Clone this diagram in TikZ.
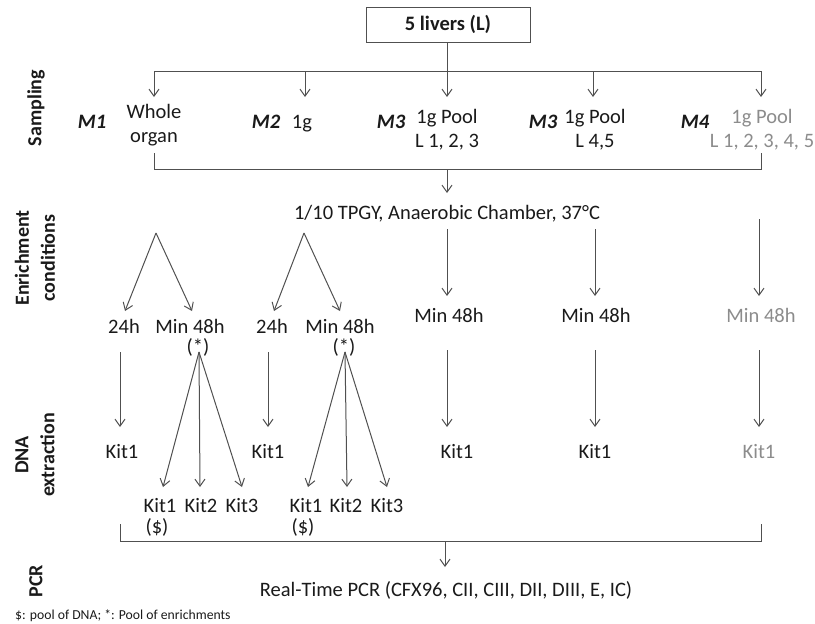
\documentclass[tikz,border=0pt]{standalone}
\usepackage{fontspec}
\setmainfont{Carlito}
\usetikzlibrary{arrows.meta}
\definecolor{ln}{HTML}{505050}
\definecolor{txt}{HTML}{1A1A1A}
\definecolor{grtxt}{HTML}{8C8C8C}
\begin{document}
\begin{tikzpicture}[x=1pt,y=-1pt,
  every node/.style={inner sep=0pt, text=txt, font=\fontsize{20.5}{24}\selectfont},
  bs/.style={anchor=base},
  conn/.style={draw=ln, line width=1pt},
  arr/.style={conn, -{Straight Barb[length=7pt,width=10pt,line width=1pt]}},
  side/.style={rotate=90, align=center, font=\fontsize{20}{26}\selectfont\bfseries},
  mlab/.style={anchor=base, font=\fontsize{20.5}{24}\selectfont\bfseries\itshape},
  gr/.style={text=grtxt},
  two/.style={align=center, anchor=base}]
\useasboundingbox (0,0) rectangle (815,624);

% ---------- top box ----------
\node[draw=ln, line width=1pt, minimum width=164pt, minimum height=35pt,
      font=\fontsize{20.5}{24}\selectfont\bfseries] (livers) at (448,24.5) {5 livers (L)};

% ---------- side labels ----------
\node[side] (lsamp) at (36,108) {Sampling};
\node[side] (lenr) at (35,258) {Enrichment\\conditions};
\node[side] (ldna) at (35,455) {DNA\\extraction};
\node[side] (lpcr) at (36,581) {PCR};

% ---------- sampling (base anchor = baseline of last line) ----------
\node[mlab] (M1) at (92,128) {M1};
\node[two] (s1) at (154,142) {Whole\\organ};
\node[mlab] (M2) at (266,128) {M2};
\node[bs] (s2) at (302,128) {1g};
\node[mlab] (M3a) at (391,128) {M3};
\node[two] (s3) at (447,147) {1g Pool\\L 1, 2, 3};
\node[mlab] (M3b) at (543,128) {M3};
\node[two] (s4) at (595,147) {1g Pool\\L 4,5};
\node[mlab] (M4) at (695,128) {M4};
\node[two, gr] (s5) at (762,147) {1g Pool\\L 1, 2, 3, 4, 5};

\coordinate (t1) at (154,71);
\coordinate (t2) at (305,71);
\coordinate (t4) at (593,71);
\coordinate (t5) at (761,71);
\coordinate (p1) at (154,97);
\coordinate (p2) at (305,97);
\coordinate (p3) at (447,97);
\coordinate (p4) at (593,97);
\coordinate (p5) at (761,97);
\draw[conn] (t1) -- (t5);
\draw[arr] (livers.south -| p3) -- (p3);
\draw[arr] (t1) -- (p1);
\draw[arr] (t2) -- (p2);
\draw[arr] (t4) -- (p4);
\draw[arr] (t5) -- (p5);

% ---------- lower bracket of sampling ----------
\coordinate (b1) at (154,153);
\coordinate (b5) at (761,153);
\coordinate (bm) at (447,169);
\coordinate (tp) at (447,193);
\draw[conn] (b1) -- (b1 |- bm) -- (b5 |- bm) -- (b5);
\draw[arr] (bm) -- (tp);

% ---------- enrichment ----------
\node[bs] (tpgy) at (447,219) {1/10 TPGY, Anaerobic Chamber, 37°C};

\coordinate (ap1) at (156,233);
\coordinate (e11) at (125,311);
\coordinate (e12) at (192,311);
\coordinate (ap2) at (304,233);
\coordinate (e21) at (274,311);
\coordinate (e22) at (340,311);
\draw[arr] (ap1) -- (e11);
\draw[arr] (ap1) -- (e12);
\draw[arr] (ap2) -- (e21);
\draw[arr] (ap2) -- (e22);

\node[bs] (h24a) at (124,333) {24h};
\node[bs] (m48a) at (190,333) {Min 48h};
\node[bs] (stara) at (198,353) {(*)};
\node[bs] (h24b) at (272,333) {24h};
\node[bs] (m48b) at (340,333) {Min 48h};
\node[bs] (starb) at (344,353) {(*)};

\coordinate (r3s) at (447,229);
\coordinate (r4s) at (595,229);
\coordinate (r5s) at (759,219);
\coordinate (r3e) at (447,296);
\coordinate (r4e) at (595,296);
\coordinate (r5e) at (759,296);
\draw[arr] (r3s) -- (r3e);
\draw[arr] (r4s) -- (r4e);
\draw[arr] (r5s) -- (r5e);

\node[bs] (m48c) at (449,322) {Min 48h};
\node[bs] (m48d) at (596,322) {Min 48h};
\node[bs, gr] (m48e) at (761,322) {Min 48h};

% ---------- DNA extraction ----------
\coordinate (d1s) at (120,352);
\coordinate (d2s) at (268,352);
\coordinate (d3s) at (447,350);
\coordinate (d4s) at (595,350);
\coordinate (d5s) at (759,350);
\coordinate (d1e) at (120,427);
\coordinate (d2e) at (268,427);
\coordinate (d3e) at (447,427);
\coordinate (d4e) at (595,427);
\coordinate (d5e) at (759,427);
\draw[arr] (d1s) -- (d1e);
\draw[arr] (d2s) -- (d2e);
\draw[arr] (d3s) -- (d3e);
\draw[arr] (d4s) -- (d4e);
\draw[arr] (d5s) -- (d5e);

\node[bs] (k1a) at (122,458) {Kit1};
\node[bs] (k1b) at (268,458) {Kit1};
\node[bs] (k1c) at (457,458) {Kit1};
\node[bs] (k1d) at (595,458) {Kit1};
\node[bs, gr] (k1e) at (759,458) {Kit1};

\coordinate (fa) at (199,352);
\coordinate (fb) at (345,352);
\coordinate (fa1) at (163,487);
\coordinate (fa2) at (200,487);
\coordinate (fa3) at (242,487);
\coordinate (fb1) at (308,487);
\coordinate (fb2) at (347,487);
\coordinate (fb3) at (387,487);
\draw[arr] (fa) -- (fa1);
\draw[arr] (fa) -- (fa2);
\draw[arr] (fa) -- (fa3);
\draw[arr] (fb) -- (fb1);
\draw[arr] (fb) -- (fb2);
\draw[arr] (fb) -- (fb3);

\node[bs] (ka1) at (160,512) {Kit1};
\node[bs] (ka2) at (201,512) {Kit2};
\node[bs] (ka3) at (242,512) {Kit3};
\node[bs] (kb1) at (306,512) {Kit1};
\node[bs] (kb2) at (346,512) {Kit2};
\node[bs] (kb3) at (387,512) {Kit3};
\node[bs] (dola) at (157,533) {(\$)};
\node[bs] (dolb) at (303,533) {(\$)};

% ---------- lower bracket of DNA ----------
\coordinate (c1) at (120,524);
\coordinate (c5) at (761,524);
\coordinate (cm) at (445,541);
\coordinate (cp) at (445,567);
\draw[conn] (c1) -- (c1 |- cm) -- (c5 |- cm) -- (c5);
\draw[arr] (cm) -- (cp);

% ---------- PCR ----------
\node[bs] (pcr) at (446,596) {Real-Time PCR (CFX96, CII, CIII, DII, DIII, E, IC)};

\node[anchor=base west, font=\fontsize{13.7}{16}\selectfont] (foot) at (15,619)
  {\$: pool of DNA; *: Pool of enrichments};
\end{tikzpicture}
\end{document}
